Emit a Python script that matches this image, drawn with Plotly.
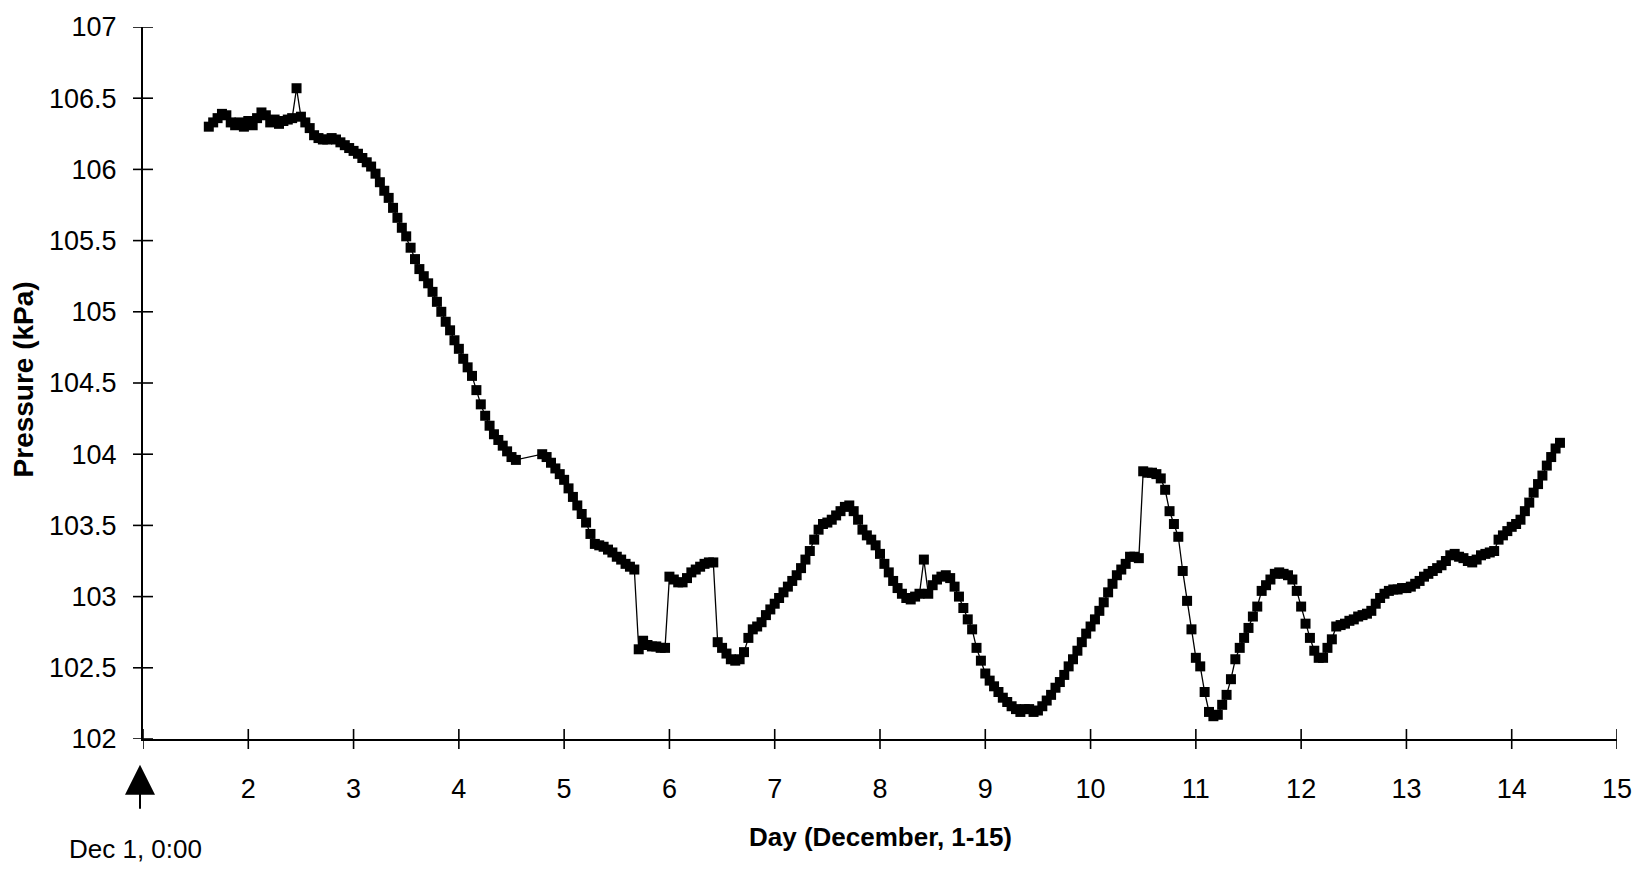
import plotly.graph_objects as go

# hours after Dec 1, 0:00 (hourly readings; gap on Dec 4-5)
hours = [
    15, 16, 17, 18, 19, 20, 21, 22, 23,
    24, 25, 26, 27, 28, 29, 30, 31, 32, 33, 34, 35, 36, 37, 38, 39, 40, 41, 42, 43, 44, 45, 46, 47,
    48, 49, 50, 51, 52, 53, 54, 55, 56, 57, 58, 59, 60, 61, 62, 63, 64, 65, 66, 67, 68, 69, 70, 71,
    72, 73, 74, 75, 76, 77, 78, 79, 80, 81, 82, 83, 84, 85,
    91, 92, 93, 94, 95,
    96, 97, 98, 99, 100, 101, 102, 103, 104, 105, 106, 107, 108, 109, 110, 111, 112, 113, 114, 115, 116, 117, 118, 119,
    120, 121, 122, 123, 124, 125, 126, 127, 128, 129, 130, 131, 132, 133, 134, 135, 136, 137, 138, 139, 140, 141, 142, 143,
    144, 145, 146, 147, 148, 149, 150, 151, 152, 153, 154, 155, 156, 157, 158, 159, 160, 161, 162, 163, 164, 165, 166, 167,
    168, 169, 170, 171, 172, 173, 174, 175, 176, 177, 178, 179, 180, 181, 182, 183, 184, 185, 186, 187, 188, 189, 190, 191,
    192, 193, 194, 195, 196, 197, 198, 199, 200, 201, 202, 203, 204, 205, 206, 207, 208, 209, 210, 211, 212, 213, 214, 215,
    216, 217, 218, 219, 220, 221, 222, 223, 224, 225, 226, 227, 228, 229, 230, 231, 232, 233, 234, 235, 236, 237, 238, 239,
    240, 241, 242, 243, 244, 245, 246, 247, 248, 249, 250, 251, 252, 253, 254, 255, 256, 257, 258, 259, 260, 261, 262, 263,
    264, 265, 266, 267, 268, 269, 270, 271, 272, 273, 274, 275, 276, 277, 278, 279, 280, 281, 282, 283, 284, 285, 286, 287,
    288, 289, 290, 291, 292, 293, 294, 295, 296, 297, 298, 299, 300, 301, 302, 303, 304, 305, 306, 307, 308, 309, 310, 311,
    312, 313, 314, 315, 316, 317, 318, 319, 320, 321, 322, 323,
]

# pressure readings (kPa)
kpa = [
    106.30, 106.33, 106.36, 106.39, 106.38, 106.33, 106.31, 106.33, 106.30,
    106.34, 106.31, 106.36, 106.40, 106.38, 106.33, 106.35, 106.32, 106.34, 106.35, 106.36, 106.57,
    106.37, 106.33, 106.29, 106.24, 106.22, 106.21, 106.21, 106.22, 106.21, 106.19, 106.17, 106.15,
    106.13, 106.11, 106.08, 106.05, 106.02, 105.97, 105.91, 105.85, 105.80, 105.73, 105.66, 105.59,
    105.53, 105.45, 105.37, 105.30, 105.25, 105.20, 105.14, 105.07, 105.00, 104.93, 104.87, 104.80,
    104.74, 104.67, 104.61, 104.55, 104.45, 104.35, 104.27, 104.20, 104.14, 104.10, 104.06, 104.02, 103.98, 103.96,
    104.00, 103.98, 103.94, 103.90, 103.86,
    103.82, 103.76, 103.70, 103.64, 103.58, 103.52, 103.44, 103.37, 103.36, 103.35, 103.33, 103.31,
    103.28, 103.26, 103.23, 103.21, 103.19, 102.63, 102.69, 102.66, 102.65, 102.65, 102.64, 102.64,
    103.14, 103.12, 103.10, 103.10, 103.13, 103.17, 103.19, 103.21, 103.23, 103.24, 103.24, 102.68,
    102.64, 102.60, 102.56, 102.55, 102.56, 102.61, 102.71, 102.77, 102.79, 102.82, 102.87, 102.91,
    102.95, 102.99, 103.03, 103.07, 103.11, 103.15, 103.20, 103.26, 103.32, 103.40, 103.47, 103.51,
    103.52, 103.54, 103.57, 103.60, 103.63, 103.64, 103.60, 103.54, 103.47, 103.43, 103.40, 103.36,
    103.30, 103.23, 103.17, 103.11, 103.06, 103.02, 102.99, 102.98, 103.00, 103.02, 103.26, 103.02,
    103.08, 103.12, 103.14, 103.15, 103.13, 103.07, 103.00, 102.92, 102.84, 102.77, 102.64, 102.55,
    102.46, 102.41, 102.37, 102.33, 102.29, 102.26, 102.23, 102.21, 102.19, 102.21, 102.21, 102.19,
    102.20, 102.23, 102.27, 102.31, 102.36, 102.40, 102.45, 102.51, 102.56, 102.62, 102.68, 102.74,
    102.79, 102.84, 102.90, 102.96, 103.03, 103.09, 103.15, 103.19, 103.23, 103.28, 103.28, 103.27,
    103.88, 103.87, 103.87, 103.86, 103.83, 103.75, 103.60, 103.51, 103.42, 103.18, 102.97, 102.77,
    102.57, 102.51, 102.33, 102.19, 102.16, 102.17, 102.24, 102.31, 102.42, 102.56, 102.64, 102.71,
    102.78, 102.86, 102.93, 103.04, 103.08, 103.12, 103.16, 103.17, 103.16, 103.15, 103.12, 103.04,
    102.93, 102.81, 102.71, 102.62, 102.57, 102.57, 102.64, 102.70, 102.79, 102.80, 102.81, 102.83,
    102.84, 102.86, 102.87, 102.88, 102.90, 102.95, 102.99, 103.02, 103.04, 103.05, 103.05, 103.06,
    103.06, 103.07, 103.09, 103.11, 103.14, 103.16, 103.18, 103.20, 103.22, 103.25, 103.29, 103.30,
    103.28, 103.27, 103.25, 103.24, 103.26, 103.29, 103.30, 103.31, 103.32, 103.40, 103.43, 103.46,
    103.49, 103.51, 103.54, 103.60, 103.66, 103.73, 103.79, 103.85, 103.92, 103.98, 104.04, 104.08,
]

x_tickvals = [1, 2, 3, 4, 5, 6, 7, 8, 9, 10, 11, 12, 13, 14, 15]
x_ticktext = ["", "2", "3", "4", "5", "6", "7", "8", "9", "10", "11", "12", "13", "14", "15"]
y_tickvals = [102, 102.5, 103, 103.5, 104, 104.5, 105, 105.5, 106, 106.5, 107]
y_ticktext = ["102", "102.5", "103", "103.5", "104", "104.5", "105", "105.5", "106", "106.5", "107"]

x_title = "Day (December, 1-15)"
y_title = "Pressure (kPa)"
origin_label = "Dec 1, 0:00"

day = [1 + h / 24 for h in hours]

FONT = "Arial, Liberation Sans, Helvetica, sans-serif"
X_RANGE = [x_tickvals[0], x_tickvals[-1]]
Y_RANGE = [y_tickvals[0], y_tickvals[-1]]

fig = go.Figure()
fig.add_trace(go.Scatter(
    x=day, y=kpa, mode="lines+markers",
    line=dict(color="black", width=1.3),
    marker=dict(symbol="square", size=10, color="black"),
    showlegend=False, hoverinfo="x+y",
))

# crossing tick marks (10 px each side of the axis lines), placed at the tick values
shapes = []
for xv in x_tickvals:
    shapes.append(dict(type="line", xref="x", yref="paper", x0=xv, x1=xv,
                       ysizemode="pixel", yanchor=0, y0=-10, y1=10,
                       line=dict(color="black", width=1.6)))
for yv in y_tickvals:
    shapes.append(dict(type="line", xref="paper", yref="y", y0=yv, y1=yv,
                       xsizemode="pixel", xanchor=0, x0=-10, x1=10,
                       line=dict(color="black", width=1.6)))

axis_common = dict(showgrid=False, zeroline=False, ticks="", showline=True,
                   linewidth=2, linecolor="black")

fig.update_layout(
    width=1648, height=871,
    margin=dict(l=143, r=31, t=20, b=132),
    paper_bgcolor="white", plot_bgcolor="white",
    font=dict(family=FONT, size=27, color="black"),
    xaxis=dict(
        range=X_RANGE, tickvals=x_tickvals, ticktext=x_ticktext,
        tickfont=dict(size=27), ticklabelstandoff=25, **axis_common,
    ),
    yaxis=dict(
        range=Y_RANGE, tickvals=y_tickvals, ticktext=y_ticktext,
        tickfont=dict(size=27), ticklabelstandoff=19, **axis_common,
    ),
    shapes=shapes,
    annotations=[
        dict(text=f"<b>{y_title}</b>", xref="paper", yref="paper", x=0, y=0.505,
             xanchor="center", yanchor="middle", xshift=-120, textangle=-90,
             showarrow=False, font=dict(size=28)),
        dict(text=f"<b>{x_title}</b>", xref="paper", yref="paper", x=0.5, y=0,
             xanchor="center", yanchor="middle", yshift=-98,
             showarrow=False, font=dict(size=26)),
        dict(text=origin_label, xref="paper", yref="paper", x=0, y=0,
             xanchor="center", yanchor="middle", xshift=-8, yshift=-110,
             showarrow=False, font=dict(size=26)),
        dict(text=" ", xref="paper", yref="paper", x=0, y=-0.036, xshift=-3,
             showarrow=True, arrowhead=2, arrowsize=3.0, arrowwidth=2,
             arrowcolor="black", ax=0, ay=46, standoff=0, font=dict(size=1)),
    ],
)

fig.write_html("out.html")
